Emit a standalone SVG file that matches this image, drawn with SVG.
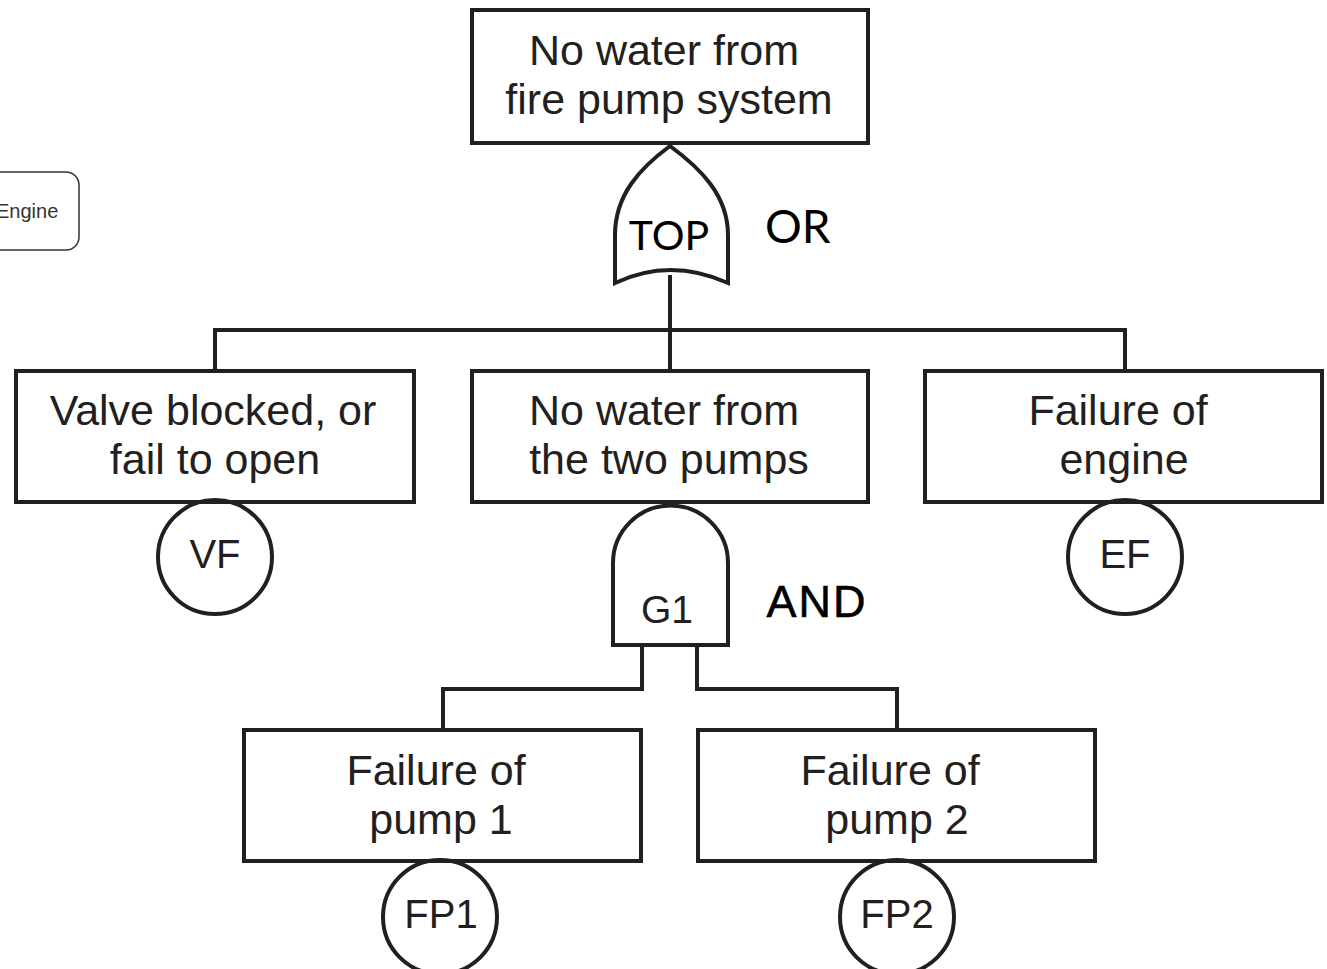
<svg xmlns="http://www.w3.org/2000/svg" width="1327" height="969" viewBox="0 0 1327 969">
<style>
.box{fill:#fff;stroke:#231f20;stroke-width:4}
.ln{fill:none;stroke:#231f20;stroke-width:4}
.t{font-family:"Liberation Sans",Arial,sans-serif;font-size:43px;fill:#231f20;text-anchor:middle}
.c{font-family:"Liberation Sans",Arial,sans-serif;font-size:40px;fill:#231f20;text-anchor:middle}
.g{font-family:Lato,"Liberation Sans",sans-serif;fill:#000}
</style>
<rect x="0" y="0" width="1327" height="969" fill="#fff"/>
<g id="connectors">
<path class="ln" d="M670 275V330M215 370V330H1125V370M670 330V370"/>
<path class="ln" d="M642 645V689H443V728M697 645V689H897V728"/>
</g>
<g id="engine-label">
<rect x="-22" y="172" width="101" height="78" rx="13" fill="#fff" stroke="#333" stroke-width="1.5"/>
<text x="-4" y="218" font-family="Liberation Sans,Arial,sans-serif" font-size="20" fill="#333">Engine</text>
</g>
<g id="top-event">
<rect class="box" x="472" y="10" width="396" height="133"/>
<text class="t" x="664" y="65">No water from</text>
<text class="t" x="669" y="114">fire pump system</text>
</g>
<g id="gate-top">
<path class="ln" d="M670 146C640 168 615 195 615 235V283Q670 257 728 283V235C728 195 700 168 670 146Z" fill="#fff"/>
<text class="g" x="669" y="250" font-size="41" text-anchor="middle">TOP</text>
<text class="g" x="765" y="243" font-size="46">OR</text>
</g>
<g id="valve">
<rect class="box" x="16" y="371" width="398" height="131"/>
<text class="t" x="213" y="425">Valve blocked, or</text>
<text class="t" x="215" y="474">fail to open</text>
</g>
<g id="vf">
<circle class="ln" cx="215" cy="557" r="57" fill="#fff"/>
<text class="c" x="215" y="568">VF</text>
</g>
<g id="two-pumps">
<rect class="box" x="472" y="371" width="396" height="131"/>
<text class="t" x="664" y="425">No water from</text>
<text class="t" x="669" y="474">the two pumps</text>
</g>
<g id="gate-g1">
<path class="ln" d="M613 645V563A57.5 57.5 0 0 1 728 563V645Z" fill="#fff"/>
<text class="c" x="667" y="623" style="font-size:39px">G1</text>
<text class="c" x="817" y="617" style="font-size:45px;letter-spacing:2px;fill:#000;stroke:#000;stroke-width:0.6">AND</text>
</g>
<g id="engine">
<rect class="box" x="925" y="371" width="397" height="131"/>
<text class="t" x="1118" y="425">Failure of</text>
<text class="t" x="1124" y="474">engine</text>
</g>
<g id="ef">
<circle class="ln" cx="1125" cy="557" r="57" fill="#fff"/>
<text class="c" x="1125" y="568">EF</text>
</g>
<g id="pump1">
<rect class="box" x="244" y="730" width="397" height="131"/>
<text class="t" x="436" y="785">Failure of</text>
<text class="t" x="441" y="834">pump 1</text>
</g>
<g id="fp1">
<circle class="ln" cx="440" cy="917" r="57" fill="#fff"/>
<text class="c" x="441" y="928">FP1</text>
</g>
<g id="pump2">
<rect class="box" x="698" y="730" width="397" height="131"/>
<text class="t" x="890" y="785">Failure of</text>
<text class="t" x="897" y="834">pump 2</text>
</g>
<g id="fp2">
<circle class="ln" cx="897" cy="917" r="57" fill="#fff"/>
<text class="c" x="897" y="928">FP2</text>
</g>
</svg>
